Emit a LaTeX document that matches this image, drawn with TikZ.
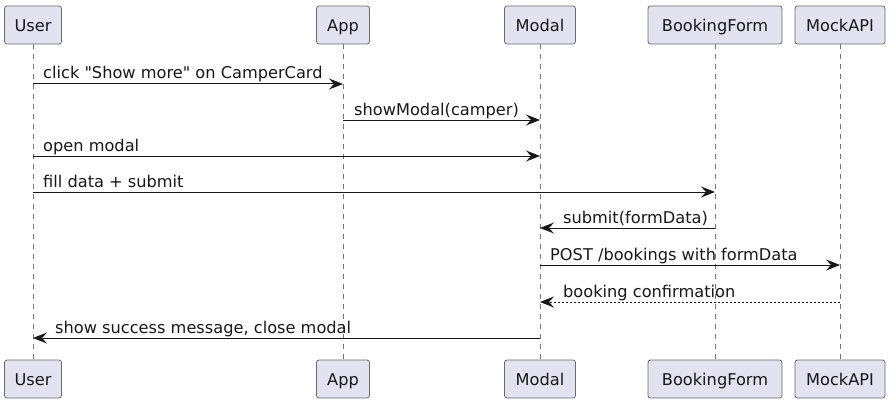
\documentclass[tikz,border=0pt]{standalone}
\usepackage{fontspec}
\newfontfamily\uifont{DejaVu Sans}
\usetikzlibrary{arrows.meta}
\definecolor{boxfill}{HTML}{E2E2F0}
\definecolor{ink}{HTML}{181818}
\begin{document}
\begin{tikzpicture}[x=1pt,y=-1pt,
  part/.style={draw=ink!65, line width=0.8pt, fill=boxfill, rounded corners=2.5pt,
    minimum height=38pt, inner xsep=0pt, inner ysep=0pt, text height=13pt, text depth=0pt,
    font=\uifont\fontsize{16.2}{19}\selectfont, text=ink},
  life/.style={draw=ink!60, line width=0.6pt, dash pattern=on 5pt off 5pt},
  msg/.style={draw=ink, line width=1pt, -{Stealth[length=14pt,width=11pt,inset=5pt]}},
  ret/.style={msg, dash pattern=on 2pt off 2pt},
  lbl/.style={anchor=base west, inner sep=0pt, font=\uifont\fontsize{16.2}{19}\selectfont, text=ink}]
\fill[white] (0,0) rectangle (890,401);
% participants (top)
\node[part, minimum width=57pt]  (userT)  at (33,25)  {User};
\node[part, minimum width=53pt]  (appT)   at (343,25) {App};
\node[part, minimum width=71pt]  (modalT) at (540,25) {Modal};
\node[part, minimum width=134pt] (formT)  at (715,25) {BookingForm};
\node[part, minimum width=90pt]  (apiT)   at (840,25) {MockAPI};
% participants (bottom)
\node[part, minimum width=57pt]  (userB)  at (33,379)  {User};
\node[part, minimum width=53pt]  (appB)   at (343,379) {App};
\node[part, minimum width=71pt]  (modalB) at (540,379) {Modal};
\node[part, minimum width=134pt] (formB)  at (715,379) {BookingForm};
\node[part, minimum width=90pt]  (apiB)   at (840,379) {MockAPI};
% lifelines
\draw[life] (userT) -- (userB);
\draw[life] (appT) -- (appB);
\draw[life] (modalT) -- (modalB);
\draw[life] (formT) -- (formB);
\draw[life] (apiT) -- (apiB);
% messages
\draw[msg] (userT |- 0,84) -- (appT |- 0,84);
\node[lbl] (l1) at (43,79) {click "Show more" on CamperCard};
\draw[msg] (appT |- 0,120) -- (modalT |- 0,120);
\node[lbl] (l2) at (354,115) {showModal(camper)};
\draw[msg] (userT |- 0,156) -- (modalT |- 0,156);
\node[lbl] (l3) at (43,151) {open modal};
\draw[msg] (userT |- 0,192) -- (formT |- 0,192);
\node[lbl] (l4) at (43,187) {fill data + submit};
\draw[msg] (formT |- 0,228) -- (modalT |- 0,228);
\node[lbl] (l5) at (563,223) {submit(formData)};
\draw[msg] (modalT |- 0,265) -- (apiT |- 0,265);
\node[lbl] (l6) at (550,260) {POST /bookings with formData};
\draw[ret] (apiT |- 0,302) -- (modalT |- 0,302);
\node[lbl] (l7) at (563,297) {booking confirmation};
\draw[msg] (modalT |- 0,338) -- (userT |- 0,338);
\node[lbl] (l8) at (55,333) {show success message, close modal};
\end{tikzpicture}
\end{document}
